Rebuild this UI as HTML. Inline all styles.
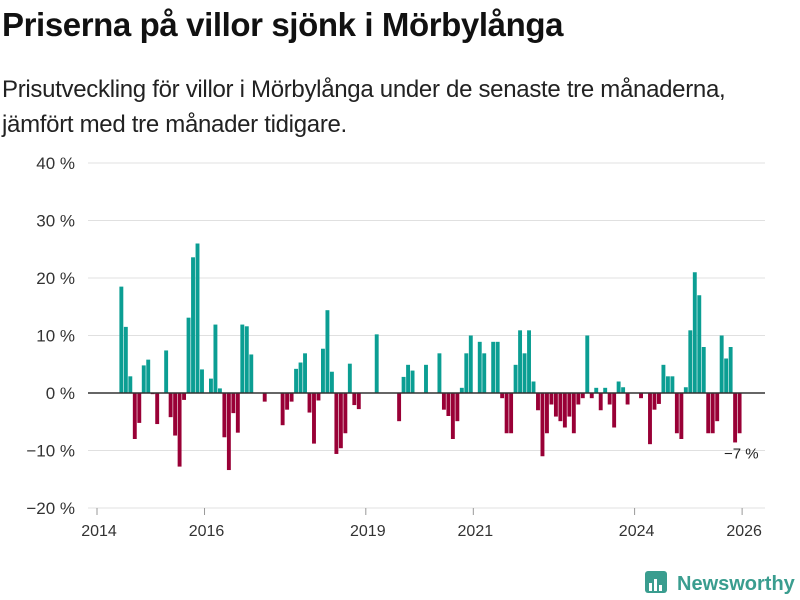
<!DOCTYPE html>
<html><head><meta charset="utf-8">
<style>
body{margin:0;background:#fff;font-family:"Liberation Sans",sans-serif;}
#wrap{position:relative;width:800px;height:600px;overflow:hidden;}
h1{position:absolute;left:2px;top:6px;margin:0;font-size:33px;font-weight:bold;color:#111;letter-spacing:-0.4px;}
p.sub{position:absolute;left:2px;top:72px;margin:0;font-size:24px;line-height:35px;color:#222;letter-spacing:-0.3px;}
</style></head><body>
<div id="wrap">
<h1>Priserna på villor sjönk i Mörbylånga</h1>
<p class="sub">Prisutveckling för villor i Mörbylånga under de senaste tre månaderna,<br>jämfört med tre månader tidigare.</p>
<svg id="chart" width="800" height="600" style="position:absolute;left:0;top:0"></svg>
</div>
<script>
const startMonth = 5; // June 2014, months since Jan 2014
const values = [18.5,11.5,2.9,-8.0,-5.2,4.8,5.8,-0.2,-5.4,0,7.4,-4.2,-7.4,-12.8,-1.2,13.1,23.6,26,4.1,0,2.5,11.9,0.8,-7.7,-13.4,-3.5,-6.9,11.9,11.6,6.7,0,0,-1.5,0,0,0,-5.6,-2.9,-1.5,4.2,5.3,6.9,-3.4,-8.8,-1.3,7.7,14.4,3.7,-10.6,-9.6,-7.0,5.1,-2.1,-2.8,0,0,0,10.2,0,0,0,0,-4.9,2.8,4.9,3.9,0,0,4.9,0,0,6.9,-2.9,-4.0,-8.0,-4.9,0.9,6.9,10.0,0,8.9,6.9,0,8.9,8.9,-0.9,-7,-7,4.9,10.9,6.9,10.9,2.0,-3,-11,-7,-2,-4.1,-4.9,-6,-4.1,-7,-2,-0.9,10,-0.9,0.9,-3,0.9,-2,-6,2,1,-2,0,0,-0.9,0,-8.9,-2.9,-1.9,4.9,2.9,2.9,-7,-8,1,10.9,21,17,8,-7,-7,-4.9,10,6,8,-8.6,-7];
const yTicks = [40,30,20,10,0,-10,-20];
const yTickLabels = ["40 %","30 %","20 %","10 %","0 %","\u221210 %","\u221220 %"];
const xTickYears = [2014,2016,2019,2021,2024,2026];
const lastLabel = "\u22127 %";

const NS="http://www.w3.org/2000/svg";
const svg=document.getElementById('chart');
function y(v){return 393 - v*5.75;}
function x(m){return 97 + m*4.48;}
function mk(tag,attrs){const e=document.createElementNS(NS,tag);for(const k in attrs)e.setAttribute(k,attrs[k]);svg.appendChild(e);return e;}

yTicks.forEach((t,i)=>{
  if(t!==0){
    const g=mk('line',{x1:88,x2:765,y1:y(t),y2:y(t),stroke:'#e0e0e0','stroke-width':1});
    
    
  }
  const tx=mk('text',{x:75,y:y(t)+6,'text-anchor':'end','font-size':17,fill:'#333','font-family':'Liberation Sans, sans-serif'});
  tx.textContent=yTickLabels[i];
  
  
});
xTickYears.forEach(yr=>{
  const m=(yr-2014)*12;
  const tk=mk('line',{x1:x(m),x2:x(m),y1:508,y2:515,stroke:'#999','stroke-width':1});
  
  
  const tx=mk('text',{x:x(m)+2,y:536,'text-anchor':'middle','font-size':16,fill:'#333','font-family':'Liberation Sans, sans-serif'});
  tx.textContent=yr;
  
  
});
values.forEach((v,i)=>{
  if(v===0)return;
  const m=startMonth+i;
  const r=mk('rect',{x:x(m),width:3.9,y:Math.min(y(v),y(0)),height:Math.abs(y(v)-y(0)),fill:v>0?'#0b9e93':'#990036'});
  
  
});
const zl=mk('line',{x1:88,x2:765,y1:y(0),y2:y(0),stroke:'#333','stroke-width':1.5});


const lastM=startMonth+values.length-1;
const ll=mk('text',{x:x(lastM)+21,y:y(values[values.length-1])+25,'text-anchor':'end','font-size':15,fill:'#222','font-family':'Liberation Sans, sans-serif'});
ll.textContent=lastLabel;



// logo
const lg=mk('g',{});


const box=document.createElementNS(NS,'rect');
box.setAttribute('x',645);box.setAttribute('y',571);box.setAttribute('width',22);box.setAttribute('height',22);box.setAttribute('rx',3);box.setAttribute('fill','#3a9d8f');
lg.appendChild(box);
[[649,583,3,8],[654,579,3,12],[659,585,3,6]].forEach(b=>{const r=document.createElementNS(NS,'rect');r.setAttribute('x',b[0]);r.setAttribute('y',b[1]);r.setAttribute('width',b[2]);r.setAttribute('height',b[3]);r.setAttribute('fill','#fff');lg.appendChild(r);});
const lt=document.createElementNS(NS,'text');
lt.setAttribute('x',677);lt.setAttribute('y',590);lt.setAttribute('font-size',20);lt.setAttribute('font-weight','bold');lt.setAttribute('fill','#3a9d8f');lt.setAttribute('font-family','Liberation Sans, sans-serif');
lt.textContent='Newsworthy';
lg.appendChild(lt);
</script>
</body></html>
